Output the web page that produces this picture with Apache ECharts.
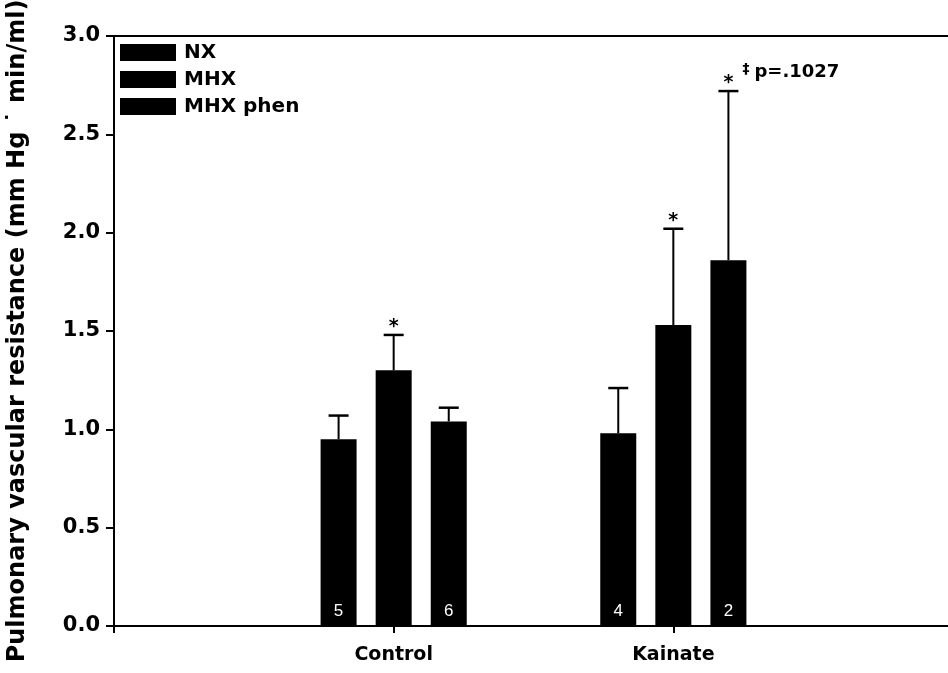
<!DOCTYPE html>
<html>
<head>
<meta charset="utf-8">
<script src="https://cdn.jsdelivr.net/npm/echarts@6/dist/echarts.min.js"></script>
<style>
  html, body { margin: 0; padding: 0; background: #fff; }
  #chart { width: 948px; height: 673px; }
</style>
</head>
<body>
<div id="chart"></div>
<script>
// Groups on the x axis (blank end slots keep the groups at 1/3 and 2/3 of the width)
const categories = ['', 'Control', 'Kainate', ''];
const seriesNames = ['NX', 'MHX', 'MHX phen'];

// Mean pulmonary vascular resistance per condition, [Control, Kainate]
const nxMeans = [0.95, 0.98];
const mhxMeans = [1.30, 1.53];
const mhxPhenMeans = [1.04, 1.86];

// Upper error (SE) per condition, [Control, Kainate]
const nxErrors = [0.12, 0.23];
const mhxErrors = [0.18, 0.49];
const mhxPhenErrors = [0.07, 0.86];

// n per bar, printed at the bar base
const nxCounts = ['5', '4'];
const mhxCounts = ['', ''];
const mhxPhenCounts = ['6', '2'];

// Significance marks above the error bars
const nxMarks = ['', ''];
const mhxMarks = ['*', '*'];
const mhxPhenMarks = ['', '*'];
const mhxPhenDagger = ['', '\u2021'];
const mhxPhenNotes = ['', 'p=.1027'];

const yTicks = [0, 0.5, 1.0, 1.5, 2.0, 2.5, 3.0];

const means = [nxMeans, mhxMeans, mhxPhenMeans];
const errors = [nxErrors, mhxErrors, mhxPhenErrors];
const counts = [nxCounts, mhxCounts, mhxPhenCounts];
const marks = [nxMarks, mhxMarks, mhxPhenMarks];
const daggers = [['', ''], ['', ''], mhxPhenDagger];
const notes = [['', ''], ['', ''], mhxPhenNotes];

const BAR_W = 36;
const BAR_GAP = 0.53;
const BOLD = 'DejaVu Sans';

function barData(k) {
  // values sit on the 'Control' and 'Kainate' slots
  return [null, { value: means[k][0], label: { formatter: counts[k][0] } },
          { value: means[k][1], label: { formatter: counts[k][1] } }, null];
}

function errData(k) {
  return [
    [1, means[k][0], errors[k][0]],
    [2, means[k][1], errors[k][1]]
  ];
}

function makeErrRenderer(k) {
  return function (params, api) {
    const i = params.dataIndex;
    const cat = api.value(0);
    const mean = api.value(1);
    const err = api.value(2);
    const step = BAR_W * (1 + BAR_GAP);
    const off = (k - 1) * step;
    const base = api.coord([cat, mean]);
    const top = api.coord([cat, mean + err]);
    const x = base[0] + off;
    const children = [
      { type: 'line', shape: { x1: x, y1: base[1], x2: x, y2: top[1] },
        style: { stroke: '#000', lineWidth: 2 } },
      { type: 'line', shape: { x1: x - 10, y1: top[1], x2: x + 10, y2: top[1] },
        style: { stroke: '#000', lineWidth: 2.5 } }
    ];
    if (marks[k][i]) {
      children.push({ type: 'text', style: { text: marks[k][i], x: x, y: top[1] - 8,
        align: 'center', verticalAlign: 'middle', fill: '#000',
        font: 'bold 19px "' + BOLD + '"' } });
    }
    if (daggers[k][i]) {
      children.push({ type: 'text', style: { text: daggers[k][i], x: x + 14, y: top[1] - 22,
        align: 'left', verticalAlign: 'middle', fill: '#000',
        font: 'bold 14px "' + BOLD + '"' } });
    }
    if (notes[k][i]) {
      children.push({ type: 'text', style: { text: notes[k][i], x: x + 26, y: top[1] - 19,
        align: 'left', verticalAlign: 'middle', fill: '#000',
        font: 'bold 18px "' + BOLD + '"' } });
    }
    return { type: 'group', children: children };
  };
}

const chart = echarts.init(document.getElementById('chart'), null, { renderer: 'canvas' });

const barSeries = seriesNames.map((name, k) => ({
  name: name,
  type: 'bar',
  data: barData(k),
  barWidth: BAR_W,
  barGap: (BAR_GAP * 100) + '%',
  itemStyle: { color: '#000' },
  label: {
    show: true,
    position: 'insideBottom',
    distance: 6,
    color: '#fff',
    fontFamily: 'Liberation Sans',
    fontSize: 17
  },
  z: 2
}));

const errSeries = seriesNames.map((name, k) => ({
  name: name + ' error',
  type: 'custom',
  data: errData(k),
  renderItem: makeErrRenderer(k),
  z: 3,
  silent: true
}));

chart.setOption({
  animation: false,
  backgroundColor: '#fff',
  grid: { left: 114, right: -5, top: 36, bottom: 47, containLabel: false, outerBoundsMode: 'none' },
  legend: {
    data: seriesNames,
    orient: 'vertical',
    left: 115,
    top: 37,
    itemWidth: 56,
    itemHeight: 17,
    itemGap: 6,
    icon: 'rect',
    textStyle: { fontFamily: BOLD, fontWeight: 'bold', fontSize: 20, color: '#000', lineHeight: 21, padding: [0, 0, 0, 3] }
  },
  xAxis: [
    {
      type: 'category',
      data: categories,
      boundaryGap: false,
      axisLine: { lineStyle: { color: '#000', width: 2 } },
      axisTick: { show: true, length: 7, inside: false, interval: (i) => i <= 2,
                  lineStyle: { color: '#000', width: 2 } },
      axisLabel: { interval: 0, margin: 20, color: '#000', fontFamily: BOLD, fontWeight: 'bold', fontSize: 19 },
      splitLine: { show: false }
    },
    {
      type: 'category',
      data: categories,
      boundaryGap: false,
      position: 'top',
      axisLine: { lineStyle: { color: '#000', width: 2 } },
      axisTick: { show: false },
      axisLabel: { show: false },
      splitLine: { show: false }
    }
  ],
  yAxis: {
    type: 'value',
    min: yTicks[0],
    max: yTicks[yTicks.length - 1],
    interval: 0.5,
    name: 'Pulmonary vascular resistance (mm Hg \u02D9 min/ml)',
    nameLocation: 'middle',
    nameGap: 84,
    nameTextStyle: { fontFamily: BOLD, fontWeight: 'bold', fontSize: 24, color: '#000' },
    axisLine: { show: true, lineStyle: { color: '#000', width: 2 } },
    axisTick: { show: true, length: 8, lineStyle: { color: '#000', width: 2 } },
    axisLabel: { color: '#000', fontFamily: BOLD, fontWeight: 'bold', fontSize: 21, margin: 14,
                 formatter: (v) => v.toFixed(1) },
    splitLine: { show: false }
  },
  series: barSeries.concat(errSeries)
});
</script>
</body>
</html>
